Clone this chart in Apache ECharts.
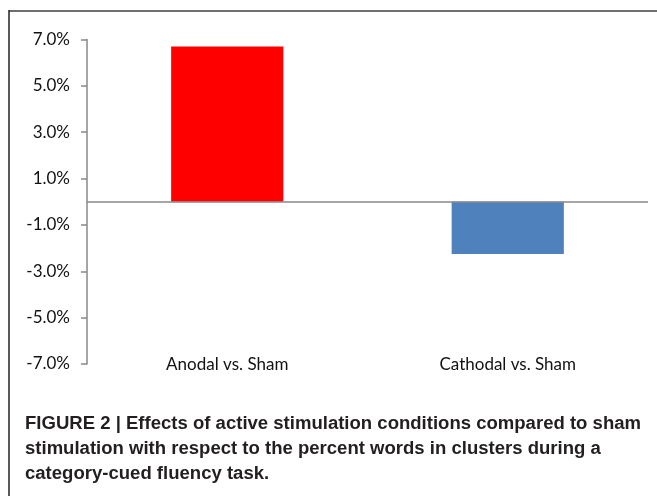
<!DOCTYPE html>
<html>
<head>
<meta charset="utf-8">
<script src="https://cdn.jsdelivr.net/npm/echarts@6/dist/echarts.min.js"></script>
<style>
  html, body { margin: 0; padding: 0; background: #fff; }
  #chart { width: 657px; height: 496px; }
</style>
</head>
<body>
<div id="chart"></div>
<script>
// data
const categories = ["Anodal vs. Sham", "Cathodal vs. Sham"];
const diffValues = [6.7, -2.25];
const barColors = ["#ff0000", "#4f81bd"];
const yTicks = { min: -7, max: 7, step: 2 };
const captionLines = [
  "FIGURE 2 | Effects of active stimulation conditions compared to sham",
  "stimulation with respect to the percent words in clusters during a",
  "category-cued fluency task.",
];

const captionFont = "bold 18px 'Liberation Sans', Arial, sans-serif";
// the caption is set in a condensed face; squeeze a normal one to the same width
const ctx = document.createElement("canvas").getContext("2d");
ctx.font = captionFont;
const squeeze = 616 / ctx.measureText(captionLines[0]).width;

const chart = echarts.init(document.getElementById("chart"));

const captionTexts = captionLines.map((line, i) => ({
  type: "text",
  x: 25,
  y: 415 + i * 25,
  scaleX: squeeze,
  style: {
    x: 0,
    y: 0,
    text: line,
    font: captionFont,
    fill: "#231f20",
  },
}));

chart.setOption({
  animation: false,
  backgroundColor: "#fff",
  textStyle: { fontFamily: "Lato" },
  grid: {
    left: 87,
    right: 9,
    top: 39.5,
    bottom: 132,
  },
  graphic: [
    {
      type: "line",
      shape: { x1: 9, y1: 11, x2: 657, y2: 11 },
      style: { stroke: "#6f6f6f", lineWidth: 2 },
    },
    {
      type: "line",
      shape: { x1: 9, y1: 10, x2: 9, y2: 496 },
      style: { stroke: "#222", lineWidth: 1.5 },
    },
  ].concat(captionTexts),
  xAxis: {
    type: "category",
    data: categories,
    axisLine: { show: false, onZero: false },
    axisTick: { show: false },
    axisLabel: {
      margin: -8,
      color: "#111",
      fontSize: 17,
      fontFamily: "Lato",
    },
  },
  yAxis: {
    type: "value",
    min: yTicks.min,
    max: yTicks.max,
    interval: yTicks.step,
    splitLine: { show: false },
    axisLine: { show: true, lineStyle: { color: "#888", width: 1.5 } },
    axisTick: { show: true, length: 6, lineStyle: { color: "#888", width: 1.5 } },
    axisLabel: {
      margin: 17,
      color: "#111",
      fontSize: 17,
      fontFamily: "Lato",
      formatter: (v) => v.toFixed(1) + "%",
    },
  },
  series: [
    {
      type: "bar",
      barWidth: "40%",
      data: diffValues.map((v, i) => ({ value: v, itemStyle: { color: barColors[i] } })),
      markLine: {
        silent: true,
        symbol: "none",
        label: { show: false },
        lineStyle: { color: "#888", width: 1.5, type: "solid" },
        data: [{ yAxis: 0 }],
      },
    },
  ],
});
</script>
</body>
</html>
